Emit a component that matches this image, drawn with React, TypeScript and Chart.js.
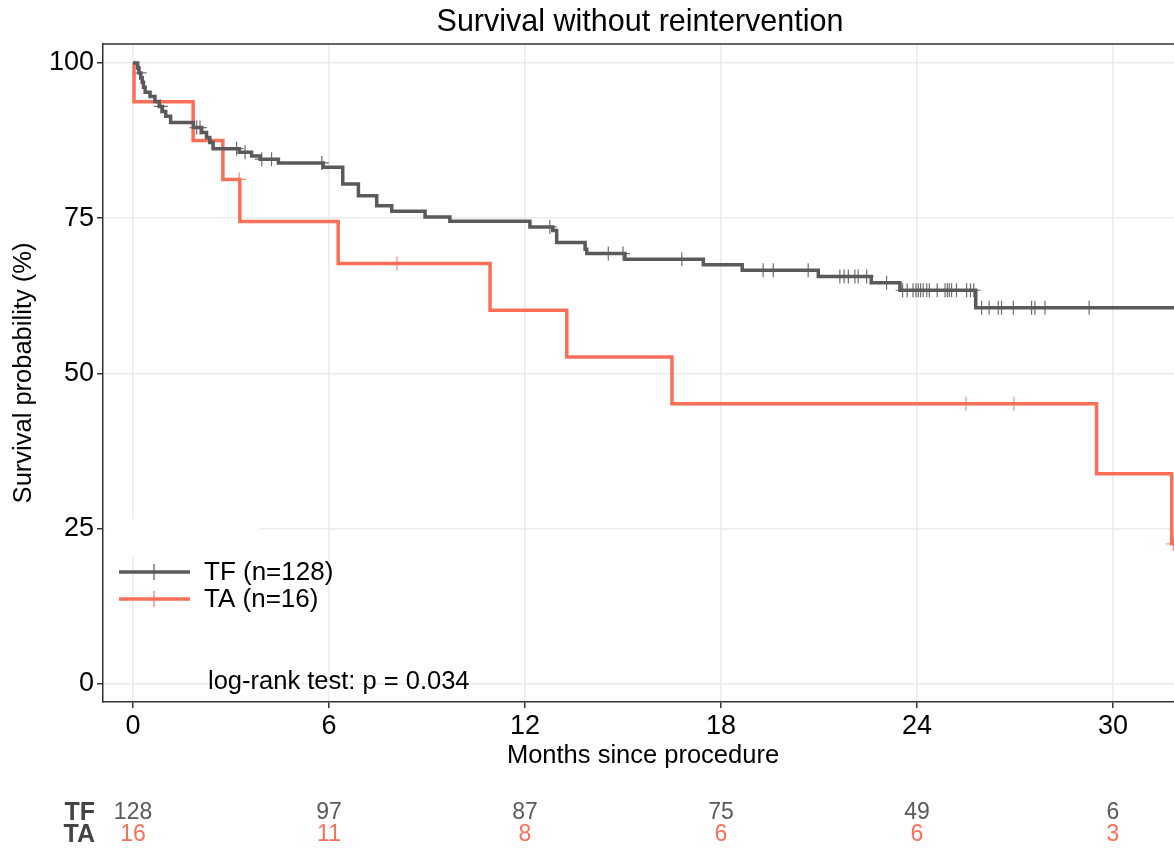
import { useEffect, useRef } from "react";
import { Chart, registerables } from "chart.js";

Chart.register(...registerables);

// ---- data ----
const X_TICKS = [0, 6, 12, 18, 24, 30];
const Y_TICKS = [0, 25, 50, 75, 100];

const TF_EVENT_TIMES = [0, 0.14, 0.18, 0.24, 0.28, 0.32, 0.37, 0.52, 0.67, 0.8, 0.9, 1.0, 1.15, 1.85, 2.1, 2.25, 2.35, 2.45, 3.25, 3.63, 3.89, 4.45, 5.82, 6.42, 6.9, 7.46, 7.92, 8.94, 9.7, 12.15, 12.85, 12.97, 13.84, 13.89, 15.06, 17.46, 18.65, 20.98, 22.6, 23.48, 25.8, 33];
const TF_SURV = [100, 99.2, 98.4, 97.6, 96.9, 96.1, 95.3, 94.6, 93.8, 93.0, 92.2, 91.4, 90.4, 89.6, 88.8, 88.0, 87.2, 86.2, 85.6, 85.0, 84.5, 83.9, 83.2, 80.5, 78.6, 77.0, 76.1, 75.2, 74.5, 73.6, 73.0, 71.1, 70.0, 69.3, 68.4, 67.5, 66.6, 65.6, 64.6, 63.4, 60.6, 60.6];
const TF_CENSOR_TIMES = [0.2, 0.85, 1.95, 2.05, 3.17, 3.43, 3.94, 4.24, 5.78, 12.76, 14.55, 15.0, 16.8, 19.29, 19.6, 20.67, 21.64, 21.77, 21.9, 22.1, 22.2, 22.46, 23.07, 23.56, 23.7, 23.88, 23.97, 24.04, 24.11, 24.19, 24.3, 24.38, 24.62, 24.86, 24.93, 24.99, 25.06, 25.21, 25.52, 25.64, 25.74, 25.98, 26.21, 26.49, 26.59, 26.95, 27.51, 27.61, 27.92, 29.27];

const TA_EVENT_TIMES = [0, 0.03, 1.84, 2.75, 3.27, 6.28, 10.93, 13.28, 16.5, 29.5, 31.8, 33];
const TA_SURV = [100, 93.75, 87.5, 81.25, 74.48, 67.71, 60.19, 52.66, 45.14, 33.86, 22.57, 22.57];
const TA_CENSOR_TIMES = [3.25, 8.08, 25.5, 26.97, 31.85];

const GROUPS = ["TF", "TA"];
const LEGEND_LABELS = ["TF (n=128)", "TA (n=16)"];
const TF_AT_RISK = [128, 97, 87, 75, 49, 6];
const TA_AT_RISK = [16, 11, 8, 6, 6, 3];

const TITLE = "Survival without reintervention";
const X_TITLE = "Months since procedure";
const Y_TITLE = "Survival probability (%)";
const PVAL_TEXT = "log-rank test: p = 0.034";

// ---- style ----
const GREY = "#5a5a5a";
const RED = "#fb6f58";
const FONT = "'Liberation Sans', Arial, sans-serif";

function survAt(times: number[], surv: number[], t: number) {
  let v = surv[0];
  for (let i = 0; i < times.length; i++) {
    if (times[i] <= t) v = surv[i];
  }
  return v;
}

const toPts = (xs: number[], ys: number[]) => xs.map((x, i) => ({ x, y: ys[i] }));
const censorPts = (cs: number[], xs: number[], ys: number[]) =>
  cs.map((t) => ({ x: t, y: survAt(xs, ys, t) }));

export default function App() {
  const ref = useRef<HTMLCanvasElement | null>(null);

  useEffect(() => {
    if (!ref.current) return;

    const decor = {
      id: "decor",
      beforeDatasetsDraw(chart: any) {
        const { ctx, chartArea } = chart;
        ctx.save();
        // legend background box hiding grid
        ctx.fillStyle = "#ffffff";
        ctx.fillRect(chartArea.left + 1.5, 519, 258 - chartArea.left, 38);
        // top border
        ctx.strokeStyle = "#333333";
        ctx.lineWidth = 1.5;
        ctx.beginPath();
        ctx.moveTo(chartArea.left, chartArea.top);
        ctx.lineTo(chartArea.right + 5, chartArea.top);
        ctx.stroke();
        ctx.restore();
      },
      afterDraw(chart: any) {
        const { ctx, chartArea, scales } = chart;
        const xs = scales.x;
        ctx.save();
        ctx.fillStyle = "#000000";
        ctx.textBaseline = "middle";
        // title
        ctx.font = `30.5px ${FONT}`;
        ctx.textAlign = "center";
        ctx.fillText(TITLE, 640, 23);
        // x title
        ctx.font = `25.5px ${FONT}`;
        ctx.fillText(X_TITLE, 643, 756);
        // y title
        ctx.save();
        ctx.translate(24, (chartArea.top + chartArea.bottom) / 2);
        ctx.rotate(-Math.PI / 2);
        ctx.font = `25.5px ${FONT}`;
        ctx.fillText(Y_TITLE, 0, 0);
        ctx.restore();

        // legend
        const colors = [GREY, RED];
        const ly = [572, 599];
        for (let i = 0; i < 2; i++) {
          ctx.strokeStyle = colors[i];
          ctx.lineWidth = 3.5;
          ctx.beginPath();
          ctx.moveTo(119, ly[i]);
          ctx.lineTo(190, ly[i]);
          ctx.stroke();
          ctx.lineWidth = 1.2;
          ctx.beginPath();
          ctx.moveTo(154, ly[i] - 8);
          ctx.lineTo(154, ly[i] + 8);
          ctx.stroke();
          ctx.fillStyle = "#000000";
          ctx.textAlign = "left";
          ctx.font = `26px ${FONT}`;
          ctx.fillText(LEGEND_LABELS[i], 204, ly[i] + 1);
        }

        // p-value
        ctx.font = `25.5px ${FONT}`;
        ctx.textAlign = "left";
        ctx.fillText(PVAL_TEXT, 208, 682);

        // risk table
        const rows = [TF_AT_RISK, TA_AT_RISK];
        const ry = [813, 835];
        for (let r = 0; r < 2; r++) {
          ctx.font = `bold 25px ${FONT}`;
          ctx.textAlign = "right";
          ctx.fillStyle = "#444444";
          ctx.fillText(GROUPS[r], 95, ry[r]);
          ctx.font = `23px ${FONT}`;
          ctx.textAlign = "center";
          ctx.fillStyle = r === 0 ? GREY : RED;
          rows[r].forEach((v, i) => {
            ctx.fillText(String(v), xs.getPixelForValue(X_TICKS[i]), ry[r]);
          });
        }
        ctx.restore();
      },
    };

    const chart = new Chart(ref.current, {
      type: "line",
      data: {
        datasets: [
          {
            label: "TF",
            data: toPts(TF_EVENT_TIMES, TF_SURV),
            stepped: "before",
            borderColor: GREY,
            borderWidth: 3.5,
            pointRadius: 0,
            fill: false,
          },
          {
            label: "TA",
            data: toPts(TA_EVENT_TIMES, TA_SURV),
            stepped: "before",
            borderColor: RED,
            borderWidth: 3.5,
            pointRadius: 0,
            fill: false,
          },
          {
            type: "scatter",
            label: "TF censor",
            data: censorPts(TF_CENSOR_TIMES, TF_EVENT_TIMES, TF_SURV),
            pointStyle: "cross",
            pointRadius: 7,
            pointBorderWidth: 1.2,
            borderColor: "#6e6e6e",
            showLine: false,
          } as any,
          {
            type: "scatter",
            label: "TA censor",
            data: censorPts(TA_CENSOR_TIMES, TA_EVENT_TIMES, TA_SURV),
            pointStyle: "cross",
            pointRadius: 7,
            pointBorderWidth: 1.2,
            borderColor: "#fc8a76",
            showLine: false,
          } as any,
        ],
      },
      options: {
        responsive: false,
        animation: false,
        devicePixelRatio: 1,
        layout: { autoPadding: false, padding: { top: 44, left: 0, right: 0, bottom: 0 } },
        plugins: {
          legend: { display: false },
          title: { display: false },
          tooltip: { enabled: false },
        },
        scales: {
          x: {
            type: "linear",
            min: -0.92,
            max: 31.87,
            afterFit: (s: any) => {
              s.height = 148;
              s.paddingLeft = 0;
              s.paddingRight = 0;
            },
            afterBuildTicks: (s: any) => {
              s.ticks = X_TICKS.map((v) => ({ value: v }));
            },
            grid: {
              color: "#ebebeb",
              lineWidth: 1.5,
              tickColor: "#333333",
              tickLength: 6,
              tickWidth: 1.5,
            },
            border: { display: true, color: "#333333", width: 1.5 },
            ticks: {
              color: "#000000",
              font: { family: FONT, size: 27 },
              padding: 2,
              maxRotation: 0,
            },
          },
          y: {
            type: "linear",
            min: -2.9,
            max: 103.05,
            afterFit: (s: any) => {
              s.width = 103;
              s.paddingTop = 0;
              s.paddingBottom = 0;
            },
            afterBuildTicks: (s: any) => {
              s.ticks = Y_TICKS.map((v) => ({ value: v }));
            },
            grid: {
              color: "#ebebeb",
              lineWidth: 1.5,
              tickColor: "#333333",
              tickLength: 6,
              tickWidth: 1.5,
            },
            border: { display: true, color: "#333333", width: 1.5 },
            ticks: {
              color: "#000000",
              font: { family: FONT, size: 27 },
              padding: 3,
            },
          },
        },
      },
      plugins: [decor],
    } as any);

    return () => chart.destroy();
  }, []);

  return (
    <div style={{ position: "absolute", left: 0, top: 0, width: 1174, height: 850, background: "#fff" }}>
      <canvas ref={ref} width={1174} height={850} style={{ width: 1174, height: 850, display: "block" }} />
    </div>
  );
}
